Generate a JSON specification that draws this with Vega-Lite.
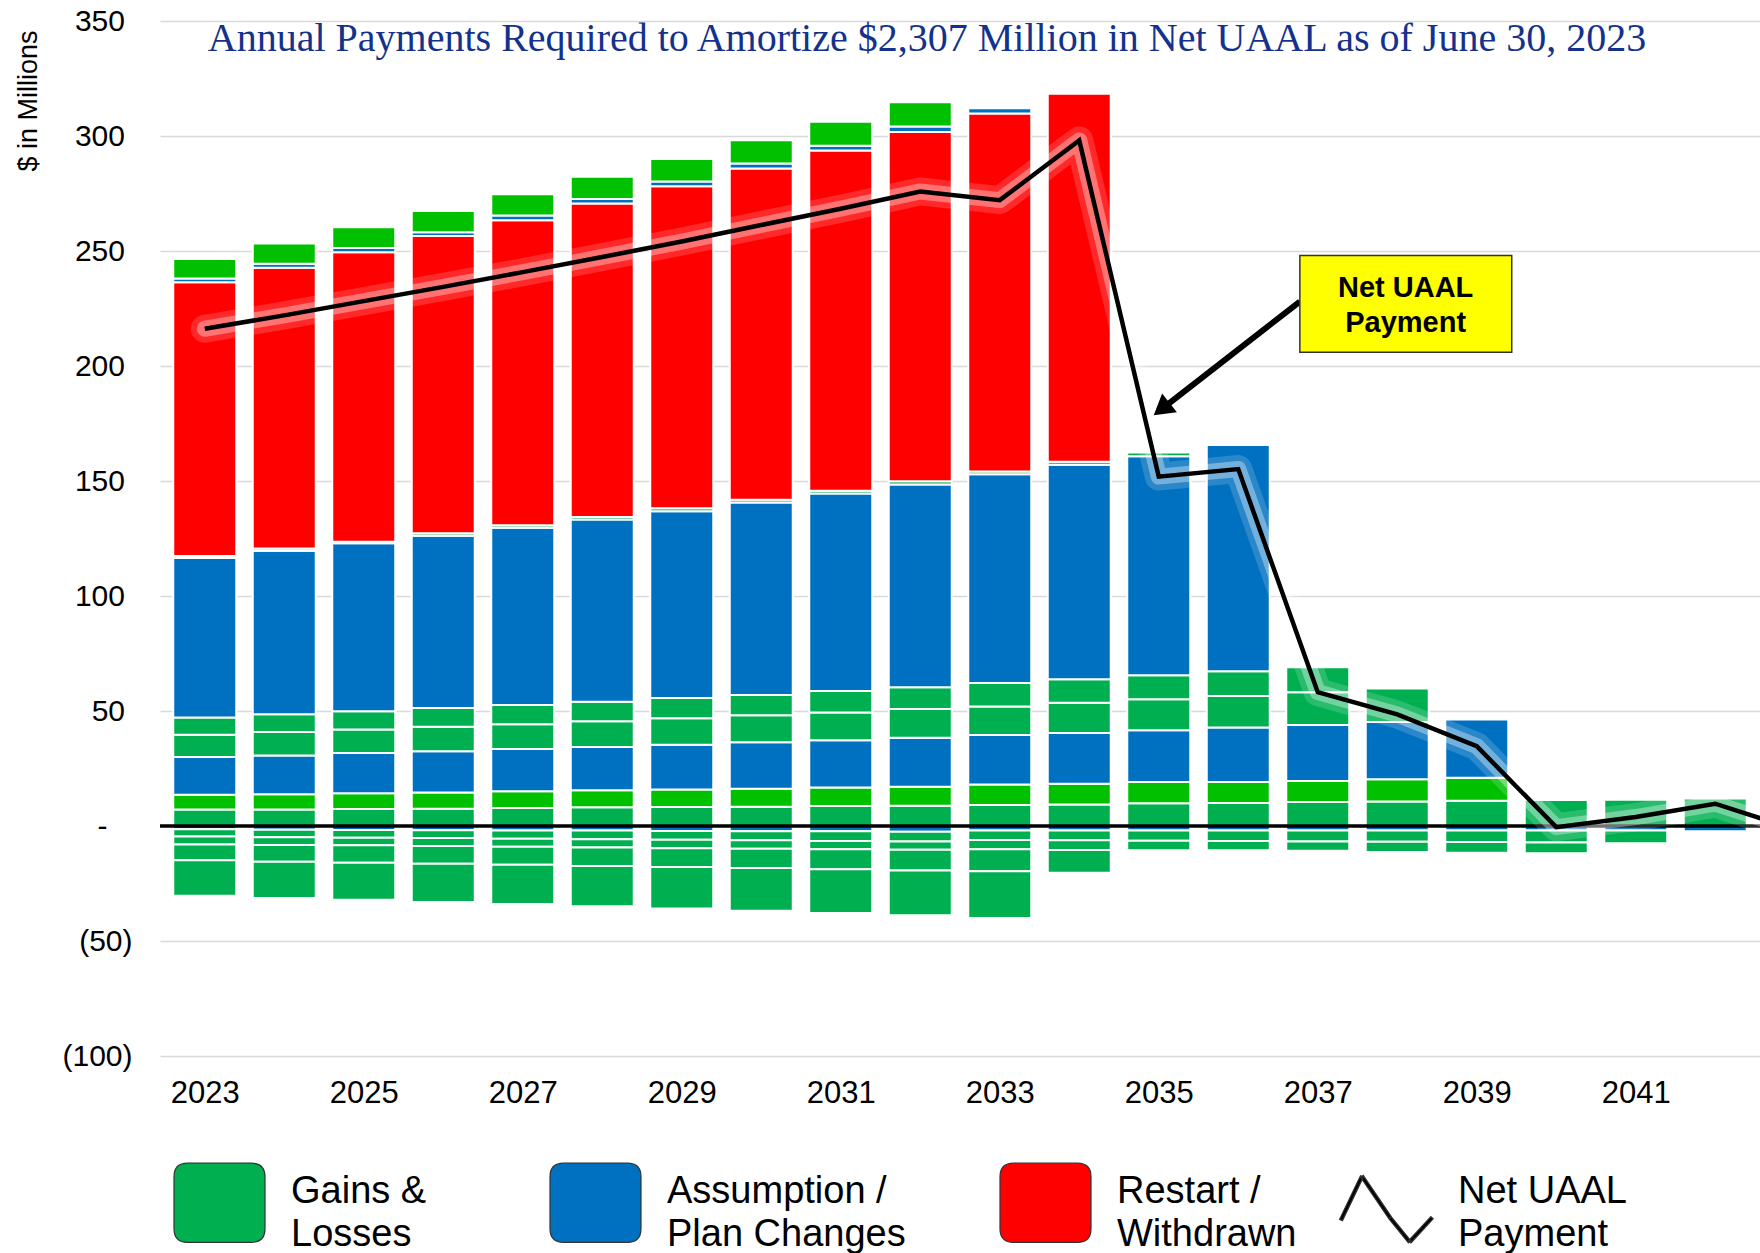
{
  "$schema": "https://vega.github.io/schema/vega-lite/v6.json",
  "width": 1600,
  "height": 1035,
  "autosize": {"type": "none"},
  "padding": {"left": 160, "top": 21, "right": 0, "bottom": 197},
  "background": "white",
  "config": {
    "view": {"stroke": null},
    "font": "Liberation Sans",
    "style": {"guide-label": {"lineHeight": 43}}
  },
  "title": {
    "text": "Annual Payments Required to Amortize $2,307 Million in Net UAAL as of June 30, 2023",
    "font": "Liberation Serif",
    "fontSize": 40,
    "fontWeight": "normal",
    "color": "#14328C",
    "anchor": "middle",
    "frame": "group",
    "orient": "top",
    "offset": 0,
    "dy": 85,
    "dx": -33,
    "baseline": "alphabetic"
  },
  "resolve": {"legend": {"color": "independent"}},
  "datasets": {
    "bars": [
      {"year": 2023, "p01": 7.2, "p02": 6.4, "p03": 16.4, "p04": 9.7, "p05": 7.5, "p06": 69.3, "p07": 0.9, "p08": 119.0, "p09": 1.6, "p10": 8.5, "n11": -1.4, "n12": -3.2, "n13": -3.4, "n14": -6.9, "n15": -15.4},
      {"year": 2024, "p01": 7.2, "p02": 6.6, "p03": 16.9, "p04": 10.2, "p05": 7.7, "p06": 71.1, "p07": 0.9, "p08": 122.1, "p09": 1.8, "p10": 8.8, "n11": -1.6, "n12": -3.3, "n13": -3.4, "n14": -7.2, "n15": -15.8},
      {"year": 2025, "p01": 7.4, "p02": 6.8, "p03": 17.5, "p04": 10.3, "p05": 7.9, "p06": 73.0, "p07": 0.7, "p08": 125.9, "p09": 1.8, "p10": 9.0, "n11": -1.7, "n12": -3.4, "n13": -3.3, "n14": -7.6, "n15": -16.1},
      {"year": 2026, "p01": 7.5, "p02": 7.1, "p03": 17.9, "p04": 10.7, "p05": 8.1, "p06": 74.9, "p07": 1.1, "p08": 129.2, "p09": 1.6, "p10": 9.3, "n11": -1.9, "n12": -3.3, "n13": -3.5, "n14": -7.7, "n15": -16.6},
      {"year": 2027, "p01": 7.8, "p02": 7.3, "p03": 18.4, "p04": 10.7, "p05": 8.4, "p06": 77.1, "p07": 1.1, "p08": 132.6, "p09": 2.0, "p10": 9.3, "n11": -2.0, "n12": -3.5, "n13": -3.5, "n14": -7.8, "n15": -17.1},
      {"year": 2028, "p01": 8.1, "p02": 7.4, "p03": 18.8, "p04": 11.2, "p05": 8.5, "p06": 79.3, "p07": 1.1, "p08": 136.3, "p09": 1.9, "p10": 9.7, "n11": -2.0, "n12": -3.8, "n13": -3.5, "n14": -8.1, "n15": -17.5},
      {"year": 2029, "p01": 8.3, "p02": 7.6, "p03": 19.4, "p04": 11.5, "p05": 8.9, "p06": 81.2, "p07": 1.3, "p08": 139.9, "p09": 2.1, "p10": 9.8, "n11": -2.2, "n12": -3.8, "n13": -3.7, "n14": -8.1, "n15": -18.1},
      {"year": 2030, "p01": 8.4, "p02": 7.8, "p03": 20.2, "p04": 11.7, "p05": 8.9, "p06": 83.7, "p07": 1.2, "p08": 144.0, "p09": 2.1, "p10": 10.1, "n11": -2.3, "n12": -3.9, "n13": -3.7, "n14": -8.4, "n15": -18.5},
      {"year": 2031, "p01": 8.7, "p02": 8.0, "p03": 20.6, "p04": 12.0, "p05": 9.4, "p06": 85.9, "p07": 1.2, "p08": 147.9, "p09": 2.1, "p10": 10.4, "n11": -2.3, "n12": -4.2, "n13": -3.6, "n14": -8.7, "n15": -19.0},
      {"year": 2032, "p01": 8.8, "p02": 8.3, "p03": 21.3, "p04": 12.5, "p05": 9.4, "p06": 88.2, "p07": 1.4, "p08": 151.8, "p09": 2.4, "p10": 10.6, "n11": -2.5, "n12": -4.2, "n13": -3.6, "n14": -9.1, "n15": -19.4},
      {"year": 2033, "p01": 9.1, "p02": 8.9, "p03": 21.6, "p04": 12.4, "p05": 10.2, "p06": 90.7, "p07": 1.2, "p08": 155.7, "p09": 2.3, "n11": -2.0, "n12": -4.1, "n13": -4.0, "n14": -9.6, "n15": -20.3},
      {"year": 2034, "p01": 9.4, "p02": 9.0, "p03": 22.0, "p04": 13.2, "p05": 10.2, "p06": 93.3, "p07": 1.3, "p08": 160.0, "n11": -2.0, "n12": -4.2, "n13": -4.2, "n14": -9.9},
      {"year": 2035, "p01": 9.9, "p02": 9.2, "p03": 22.5, "p04": 13.5, "p05": 10.4, "p06": 95.3, "p07": 1.6, "n11": -2.0, "n12": -4.4, "n13": -4.1},
      {"year": 2036, "p01": 10.0, "p02": 9.1, "p03": 23.7, "p04": 13.7, "p05": 10.8, "p06": 98.4, "n11": -2.0, "n12": -4.5, "n13": -4.0},
      {"year": 2037, "p01": 10.4, "p02": 9.2, "p03": 24.3, "p04": 14.2, "p05": 10.9, "n11": -2.0, "n12": -4.7, "n13": -4.1},
      {"year": 2038, "p01": 10.7, "p02": 9.6, "p03": 24.9, "p04": 14.6, "n11": -2.0, "n12": -4.8, "n13": -4.5},
      {"year": 2039, "p01": 11.0, "p02": 10.0, "p03": 25.3, "n11": -2.0, "n12": -5.0, "n13": -4.6},
      {"year": 2040, "p01": 11.3, "n11": -2.0, "n12": -5.2, "n13": -4.6},
      {"year": 2041, "p01": 11.4, "n11": -2.0, "n12": -5.5},
      {"year": 2042, "p01": 12.0, "n11": -2.3}
    ],
    "net": [
      {"year": 2023, "net": 216.2},
      {"year": 2024, "net": 222.0},
      {"year": 2025, "net": 228.2},
      {"year": 2026, "net": 234.4},
      {"year": 2027, "net": 240.8},
      {"year": 2028, "net": 247.4},
      {"year": 2029, "net": 254.1},
      {"year": 2030, "net": 261.3},
      {"year": 2031, "net": 268.4},
      {"year": 2032, "net": 275.9},
      {"year": 2033, "net": 272.1},
      {"year": 2034, "net": 298.1},
      {"year": 2035, "net": 151.9},
      {"year": 2036, "net": 155.2},
      {"year": 2037, "net": 58.2},
      {"year": 2038, "net": 48.5},
      {"year": 2039, "net": 34.7},
      {"year": 2040, "net": -0.5},
      {"year": 2041, "net": 3.9},
      {"year": 2042, "net": 9.7},
      {"year": 2043, "net": -1.5}
    ]
  },
  "layer": [
    {
      "data": {"name": "bars"},
      "transform": [
        {"fold": ["p01", "p02", "p03", "p04", "p05", "p06", "p07", "p08", "p09", "p10", "n11", "n12", "n13", "n14", "n15"], "as": ["seg", "v"]},
        {"filter": "isValid(datum.v) && datum.v != 0"}
      ],
      "mark": {"type": "bar", "size": 63, "stroke": "white", "strokeWidth": 2},
      "encoding": {
        "x": {
          "field": "year", "type": "quantitative",
          "scale": {"domain": [2022.5, 2042.5], "nice": false, "zero": false},
          "axis": {
            "values": [2023, 2025, 2027, 2029, 2031, 2033, 2035, 2037, 2039, 2041],
            "format": "d", "title": null, "grid": false, "domain": false, "ticks": false, "tickSize": 0,
            "labelFontSize": 31, "labelFont": "Liberation Sans", "labelColor": "black",
            "labelBaseline": "alphabetic", "labelPadding": 46, "labelFlush": false
          }
        },
        "y": {
          "field": "v", "type": "quantitative", "stack": "zero",
          "scale": {"domain": [-100, 350], "nice": false},
          "axis": {
            "values": [-100, -50, 0, 50, 100, 150, 200, 250, 300, 350],
            "labelExpr": "datum.value == 0 ? '-\u2002\u2004\u200B' : datum.value < 0 ? '(' + (-datum.value) + ')' : datum.value + '\u2005\u200B'",
            "labelFontSize": 30, "labelFont": "Liberation Sans", "labelColor": "black",
            "labelPadding": 28, "ticks": false, "tickSize": 0, "domain": false,
            "grid": true, "gridColor": "#d9d9d9", "gridWidth": 1.5,
            "title": "$ in Millions", "titleFontSize": 27, "titleFont": "Liberation Sans",
            "titleFontWeight": "normal", "titleColor": "black",
            "titleX": -132, "titleY": 9, "titleAngle": -90, "titleAlign": "right", "titleBaseline": "middle"
          }
        },
        "color": {
          "field": "seg", "type": "nominal",
          "scale": {
            "domain": ["p01", "p02", "p03", "p04", "p05", "p06", "p07", "p08", "p09", "p10", "n11", "n12", "n13", "n14", "n15", "net"],
            "range": ["#00B050", "#00C000", "#0070C0", "#00B050", "#00B050", "#0070C0", "#00B050", "#FF0000", "#0070C0", "#00C000", "#0070C0", "#00B050", "#00B050", "#00B050", "#00B050", "#000000"]
          },
          "legend": {
            "values": ["p01", "p03", "p08", "net"],
            "orient": "none", "legendX": 13, "legendY": 1135,
            "direction": "horizontal", "columns": 4, "title": null, "padding": 0,
            "symbolSize": 8281, "symbolOffset": 0,
            "symbolType": {"expr": "datum.value == 'net' ? 'M-0.968,0.395L-0.508,-0.565L-0.572,-0.595L-1.032,0.365ZM-0.569,-0.56L0.051,0.35L0.109,0.31L-0.511,-0.6ZM0.053,0.352L0.483,0.882L0.537,0.838L0.107,0.308ZM0.536,0.884L1.026,0.354L0.974,0.306L0.484,0.836Z' : 'M-0.7,-0.87L0.7,-0.87Q1,-0.87,1,-0.57L1,0.57Q1,0.87,0.7,0.87L-0.7,0.87Q-1,0.87,-1,0.57L-1,-0.57Q-1,-0.87,-0.7,-0.87Z'"},
            "symbolStrokeColor": "#333333", "symbolStrokeWidth": 1.2,
            "labelFontSize": 38, "labelFont": "Liberation Sans", "labelColor": "black",
            "labelBaseline": "alphabetic",
            "labelOffset": 25, "columnPadding": 40, "labelLimit": 600,
            "labelExpr": "datum.value == 'p01' ? ['Gains &', 'Losses\u2003\u2003\u2002\u200B'] : datum.value == 'p03' ? ['Assumption /', 'Plan Changes\u2003\u2004\u200B'] : datum.value == 'p08' ? ['Restart /', 'Withdrawn'] : ['Net UAAL', 'Payment']"
          }
        },
        "order": {"field": "seg", "sort": "ascending"}
      }
    },
    {
      "mark": {"type": "rule", "color": "black", "strokeWidth": 3.5},
      "data": {"values": [{}]},
      "encoding": {"y": {"datum": 0}}
    },
    {
      "data": {"name": "net"},
      "mark": {"type": "line", "color": "white", "strokeWidth": 28, "opacity": 0.16, "clip": true, "strokeCap": "round", "strokeJoin": "round"},
      "encoding": {"x": {"field": "year", "type": "quantitative"}, "y": {"field": "net", "type": "quantitative"}}
    },
    {
      "data": {"name": "net"},
      "mark": {"type": "line", "color": "white", "strokeWidth": 16, "opacity": 0.35, "clip": true, "strokeCap": "round", "strokeJoin": "round"},
      "encoding": {"x": {"field": "year", "type": "quantitative"}, "y": {"field": "net", "type": "quantitative"}}
    },
    {
      "data": {"name": "net"},
      "mark": {"type": "line", "color": "black", "strokeWidth": 4.5, "clip": true, "strokeJoin": "miter"},
      "encoding": {"x": {"field": "year", "type": "quantitative"}, "y": {"field": "net", "type": "quantitative"}}
    },
    {
      "data": {"values": [{}]},
      "mark": {"type": "rule", "color": "black", "strokeWidth": 6},
      "encoding": {"x": {"datum": 2036.775}, "y": {"datum": 228.0}, "x2": {"datum": 2035.036}, "y2": {"datum": 181.3}}
    },
    {
      "data": {"values": [{}]},
      "mark": {"type": "point", "shape": "M0,-1L1.2,1L-1.2,1Z", "size": 400, "filled": true, "color": "black", "opacity": 1, "angle": 232},
      "encoding": {"x": {"datum": 2035.036}, "y": {"datum": 181.3}}
    },
    {
      "data": {"values": [{}]},
      "mark": {"type": "rect", "fill": "#FFFF00", "stroke": "#333333", "strokeWidth": 1.5},
      "encoding": {"x": {"datum": 2036.775}, "x2": {"datum": 2039.44}, "y": {"datum": 248.0}, "y2": {"datum": 206.0}}
    },
    {
      "data": {"values": [{}]},
      "mark": {"type": "text", "text": ["Net UAAL", "Payment"], "font": "Liberation Sans", "fontWeight": "bold", "fontSize": 29, "lineHeight": 35, "align": "center", "baseline": "alphabetic", "color": "black"},
      "encoding": {"x": {"datum": 2038.106}, "y": {"datum": 230.1}}
    }
  ]
}
